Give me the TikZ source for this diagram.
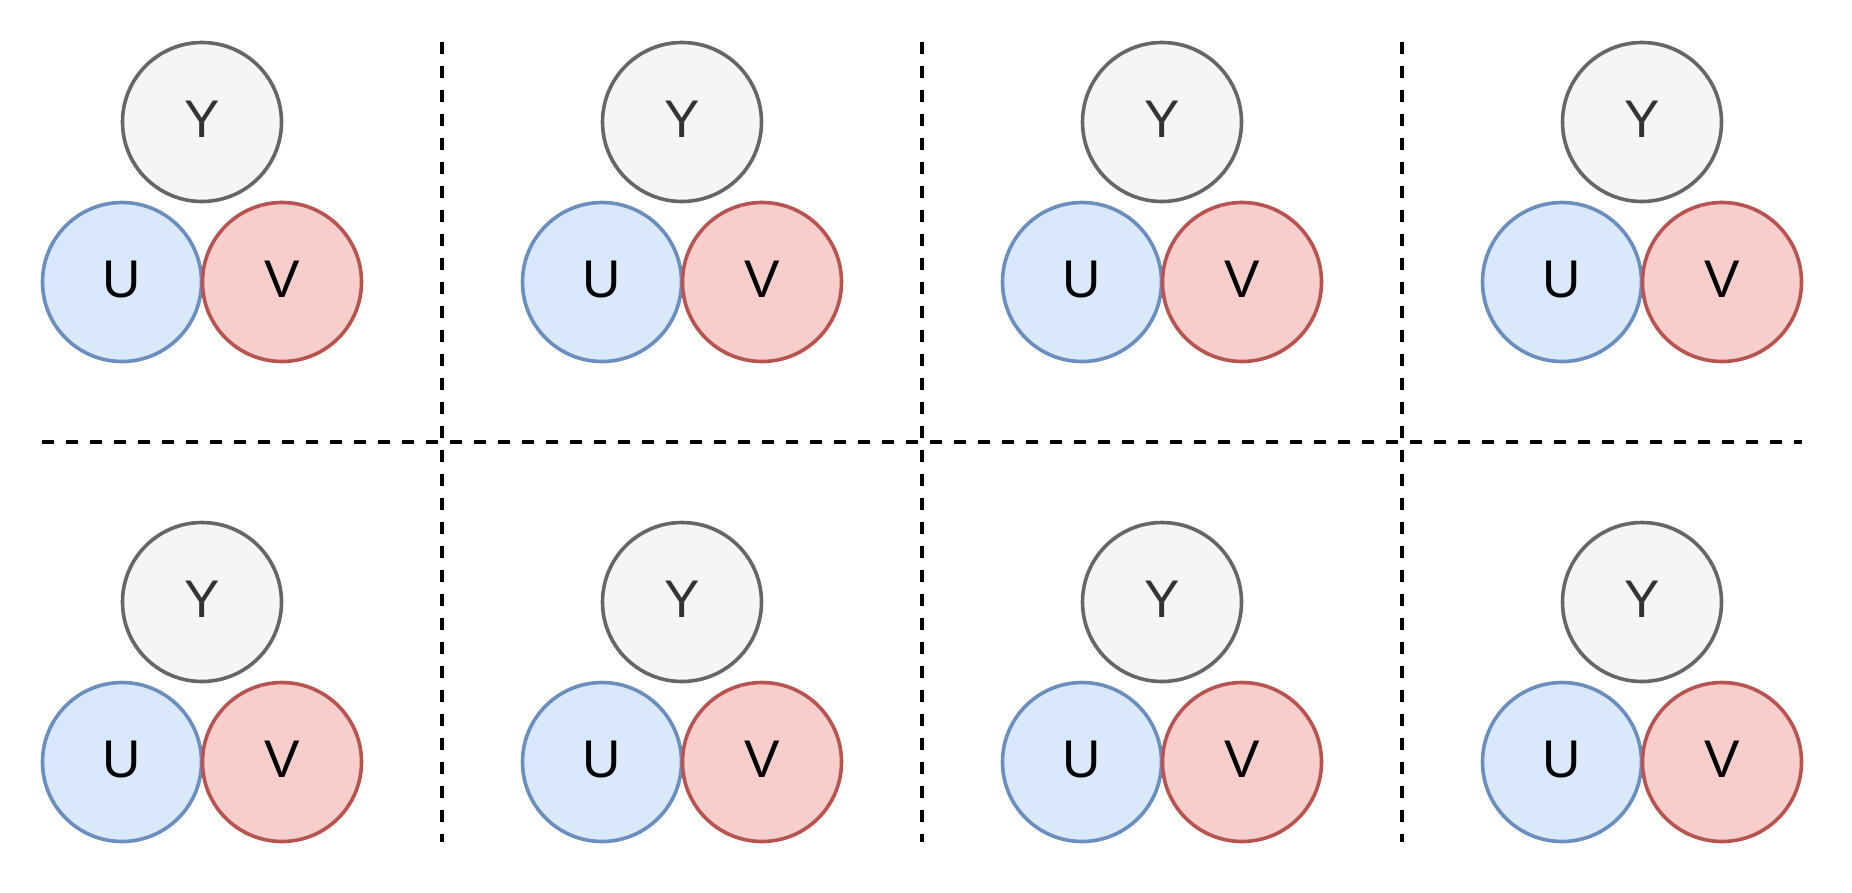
\documentclass[tikz,border=0pt]{standalone}
\usepackage{fontspec}
\setmainfont{Liberation Sans}
\definecolor{yfill}{HTML}{F5F5F5}
\definecolor{ydraw}{HTML}{666666}
\definecolor{ytext}{HTML}{333333}
\definecolor{ufill}{HTML}{DAE8FC}
\definecolor{udraw}{HTML}{6C8EBF}
\definecolor{vfill}{HTML}{F8CECC}
\definecolor{vdraw}{HTML}{B85450}
\begin{document}
\begin{tikzpicture}[x=1pt, y=-1pt,
  ball/.style={circle, minimum size=159pt, inner sep=0pt, line width=3.6pt,
    text depth=6pt, font=\fontsize{53}{60}\selectfont},
  yball/.style={ball, draw=ydraw, fill=yfill, text=ytext},
  uball/.style={ball, draw=udraw, fill=ufill},
  vball/.style={ball, draw=vdraw, fill=vfill},
  sep/.style={line width=4.6pt, dash pattern=on 12pt off 12pt}]
\useasboundingbox (0,0) rectangle (1852,892);

% top row
\node[yball] (y1) at (202,122) {Y};
\node[uball] (u1) at (122,282) {U};
\node[vball] (v1) at (282,282) {V};

\node[yball] (y2) at (682,122) {Y};
\node[uball] (u2) at (602,282) {U};
\node[vball] (v2) at (762,282) {V};

\node[yball] (y3) at (1162,122) {Y};
\node[uball] (u3) at (1082,282) {U};
\node[vball] (v3) at (1242,282) {V};

\node[yball] (y4) at (1642,122) {Y};
\node[uball] (u4) at (1562,282) {U};
\node[vball] (v4) at (1722,282) {V};

% bottom row
\node[yball] (y5) at (202,602) {Y};
\node[uball] (u5) at (122,762) {U};
\node[vball] (v5) at (282,762) {V};

\node[yball] (y6) at (682,602) {Y};
\node[uball] (u6) at (602,762) {U};
\node[vball] (v6) at (762,762) {V};

\node[yball] (y7) at (1162,602) {Y};
\node[uball] (u7) at (1082,762) {U};
\node[vball] (v7) at (1242,762) {V};

\node[yball] (y8) at (1642,602) {Y};
\node[uball] (u8) at (1562,762) {U};
\node[vball] (v8) at (1722,762) {V};

% separators
\draw[sep] (42,442) -- (1802,442);
\draw[sep] (442,42) -- (442,842);
\draw[sep] (922,42) -- (922,842);
\draw[sep] (1402,42) -- (1402,842);
\end{tikzpicture}
\end{document}
